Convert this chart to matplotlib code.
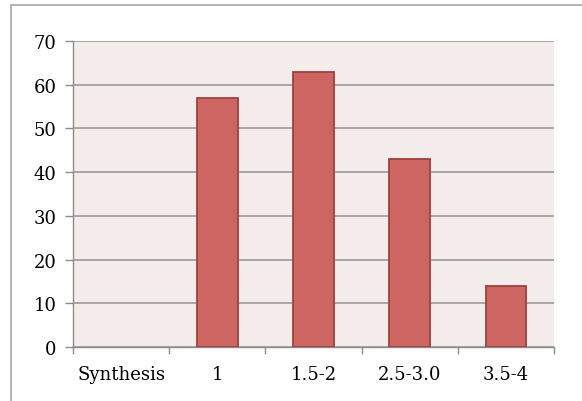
import matplotlib.pyplot as plt
import numpy as np

categories = ["Synthesis", "1", "1.5-2", "2.5-3.0", "3.5-4"]
values = [0, 57, 63, 43, 14]
yticks = [0, 10, 20, 30, 40, 50, 60, 70]

plt.rcParams['font.family'] = ['DejaVu Serif']

fig = plt.figure(figsize=(5.82, 4.02), dpi=100)
# outer chart frame
fig.patches.append(plt.Rectangle((11 / 582, -0.05), 1.0, 1.05 - 6 / 402,
                                 transform=fig.transFigure, fill=False,
                                 edgecolor="#a6a6a6", linewidth=1.2))

ax = fig.add_axes([73 / 582, 1 - 348 / 402, (554 - 73) / 582, (348 - 42) / 402])
ax.set_facecolor("#f4ecea")

x = np.arange(len(categories))
edges = ["#a0413c" if v > 0 else "none" for v in values]
ax.bar(x, values, width=0.42, color="#cd6660", edgecolor=edges, linewidth=1.3, zorder=3)

ax.set_xlim(-0.5, len(categories) - 0.5)
ax.set_ylim(0, 70)
ax.set_yticks(yticks)
ax.set_xticks(x)
ax.set_xticklabels(categories)
ax.set_xticks(np.arange(-0.5, len(categories)), minor=True)
ax.tick_params(axis="x", which="major", length=0, pad=13, labelsize=13)
ax.tick_params(axis="x", which="minor", length=5, color="#8c8c8c", width=1)
ax.tick_params(axis="y", length=6, color="#8c8c8c", width=1, pad=6, labelsize=13)

ax.yaxis.grid(True, color="#9a9a9a", linewidth=1.2, zorder=1)
for s in ["top", "right"]:
    ax.spines[s].set_visible(False)
for s in ["left", "bottom"]:
    ax.spines[s].set_color("#8c8c8c")
    ax.spines[s].set_linewidth(1.0)

fig.savefig("out.png", dpi=100)
